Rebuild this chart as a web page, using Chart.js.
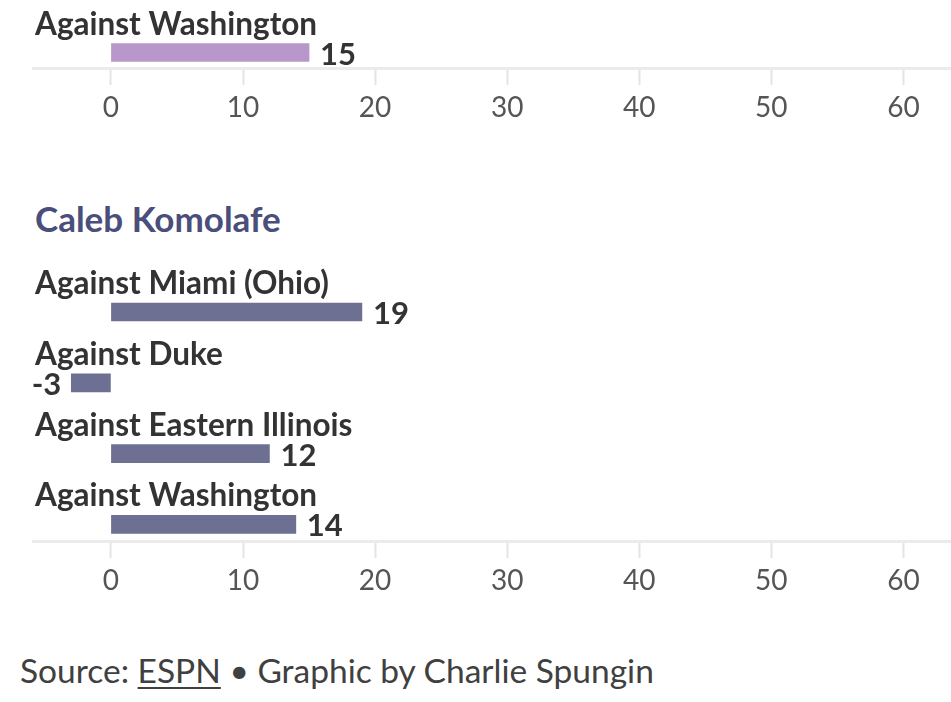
<!DOCTYPE html>
<html lang="en">
<head>
    <meta charset="UTF-8">
    <title>Caleb Komolafe</title>
    <script src="https://cdn.jsdelivr.net/npm/chart.js"></script>
    <style>
        html, body { margin: 0; padding: 0; background: #fff; }
        body { width: 951px; height: 702px; position: relative; overflow: hidden; font-family: Lato, "Open Sans", sans-serif; }
        canvas { position: absolute; left: 0; }
        #topChart { top: 0; }
        #calebChart { top: 240px; }
        .player { position: absolute; left: 35px; top: 197px; margin: 0; font-size: 35px; line-height: 42px; font-weight: 700; color: #4a4e7b; }
        .source { position: absolute; left: 20px; top: 650px; font-size: 33.5px; line-height: 40px; color: #404040; }
        .source u { text-underline-offset: 4px; text-decoration-thickness: 2px; }
    </style>
</head>
<body>
    <canvas id="topChart" width="951" height="140"></canvas>
    <h2 class="player">Caleb Komolafe</h2>
    <canvas id="calebChart" width="951" height="380"></canvas>
    <div class="source">Source: <u>ESPN</u> • Graphic by Charlie Spungin</div>

    <script>
        // data
        const topLabels = ['Against Washington'];
        const topValues = [15];
        const calebLabels = ['Against Miami (Ohio)', 'Against Duke', 'Against Eastern Illinois', 'Against Washington'];
        const calebValues = [19, -3, 12, 14];
        const xTicks = [0, 10, 20, 30, 40, 50, 60];

        // layout
        const ROW = 70.8;          // px from one bar to the next
        const X_MIN = -5.9, X_MAX = 63.6;
        const TICK_LEN = 17, TICK_PAD = 6, TICK_FONT = 28;
        const AXIS_H = TICK_LEN + TICK_FONT * 1.2 + TICK_PAD * 2;

        // category name above each bar, value at the bar end
        const barText = {
            id: 'barText',
            afterDatasetsDraw(chart) {
                const ctx = chart.ctx;
                const ds = chart.data.datasets[0];
                ctx.save();
                ctx.fillStyle = '#333';
                chart.getDatasetMeta(0).data.forEach((bar, i) => {
                    const v = ds.data[i].x;
                    ctx.font = 'bold 31.5px Lato';
                    ctx.textAlign = 'left';
                    ctx.textBaseline = 'alphabetic';
                    ctx.fillText(ds.names[i], 35, bar.y - 18);
                    ctx.font = 'bold 31px Lato';
                    ctx.textBaseline = 'middle';
                    if (v >= 0) {
                        ctx.textAlign = 'left';
                        ctx.fillText(v, bar.x + 11, bar.y + 2);
                    } else {
                        ctx.textAlign = 'right';
                        ctx.fillText(v, bar.x - 10, bar.y + 2);
                    }
                });
                ctx.restore();
            }
        };

        function drawPanel(id, labels, values, color, firstCenter, axisY) {
            const canvas = document.getElementById(id);
            const padBottom = canvas.height - axisY - AXIS_H;
            return new Chart(canvas, {
                type: 'bar',
                data: {
                    datasets: [{
                        names: labels,
                        data: values.map((v, i) => ({ x: v, y: i })),
                        backgroundColor: color,
                        borderWidth: 0,
                        barThickness: 18
                    }]
                },
                options: {
                    indexAxis: 'y',
                    responsive: false,
                    animation: false,
                    layout: { padding: { left: 33, right: 0, top: 0, bottom: padBottom } },
                    scales: {
                        y: {
                            type: 'linear',
                            display: false,
                            offset: false,
                            reverse: true,
                            min: -firstCenter / ROW,
                            max: (axisY - firstCenter) / ROW
                        },
                        x: {
                            type: 'linear',
                            min: X_MIN,
                            max: X_MAX,
                            afterBuildTicks: s => { s.ticks = xTicks.map(v => ({ value: v })); },
                            grid: {
                                drawOnChartArea: false,
                                drawTicks: true,
                                tickLength: TICK_LEN,
                                tickColor: '#e4e4e4',
                                tickWidth: 2
                            },
                            border: { display: true, color: '#ebebeb', width: 3 },
                            ticks: {
                                padding: TICK_PAD,
                                color: '#555',
                                font: { family: 'Lato', size: TICK_FONT }
                            }
                        }
                    },
                    plugins: {
                        legend: { display: false },
                        tooltip: { enabled: false }
                    }
                },
                plugins: [barText]
            });
        }

        drawPanel('topChart', topLabels, topValues, '#b898ca', 52.5, 68);
        drawPanel('calebChart', calebLabels, calebValues, '#6d7092', 72, 301);
    </script>
</body>
</html>
